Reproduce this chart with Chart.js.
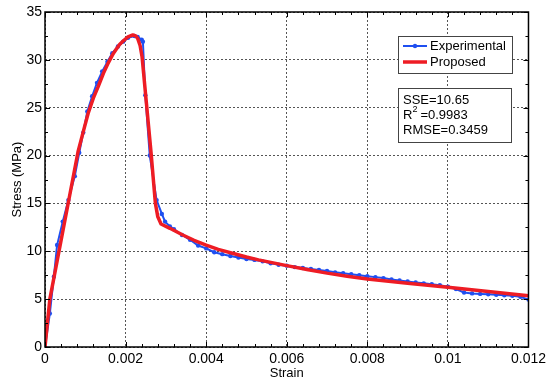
<!DOCTYPE html>
<html><head><meta charset="utf-8">
<script src="https://cdn.jsdelivr.net/npm/chart.js@4/dist/chart.umd.min.js"></script>
<style>html,body{margin:0;padding:0;background:#fff;}</style>
</head><body>
<canvas id="c" width="550" height="381" style="display:block;width:550px;height:381px"></canvas>
<script>
// ---- data ----
const expStrain = [0,0.00012,0.00022,0.0003,0.00044,0.00058,0.00074,0.00085,0.00095,0.00105,0.00117,0.00129,0.00142,0.00155,0.00167,0.00181,0.00194,0.00206,0.00222,0.0023,0.0024,0.00243,0.00249,0.0026,0.00277,0.0029,0.00298,0.0031,
0.0032,0.0034,0.0036,0.0038,0.004,0.0042,0.0044,0.0046,0.0048,0.005,0.0052,0.0054,0.0056,0.0058,0.006,0.0062,0.0064,0.0066,0.0068,0.007,0.0072,0.0074,0.0076,0.0078,0.008,0.0082,0.0084,0.0086,0.0088,0.009,0.0092,0.0094,0.0096,0.0098,0.01,0.0102,0.0104,0.0106,0.0108,0.011,0.0112,0.0114,0.0116,0.0118,0.012];
const expStress = [0,3.5,7.35,10.65,13.1,15.35,17.85,20.3,22.4,24.6,26.2,27.6,28.8,29.8,30.7,31.4,31.9,32.3,32.5,32.4,32.1,31.9,26.3,20.0,15.35,13.9,13.1,12.6,
12.3,11.7,11.2,10.6,10.3,9.9,9.7,9.5,9.35,9.2,9.1,8.95,8.75,8.6,8.5,8.35,8.25,8.15,8.05,7.95,7.8,7.7,7.6,7.5,7.4,7.3,7.2,7.05,6.95,6.85,6.75,6.65,6.55,6.45,6.3,6.05,5.7,5.6,5.55,5.5,5.45,5.4,5.35,5.25,4.95];
const propStrain = [0,0.00012,0.00082,0.00095,0.00107,0.0012,0.00132,0.00145,0.00156,0.0017,0.00185,0.00196,0.00206,0.00218,0.00225,0.0023,0.00236,0.00241,0.00251,0.00263,0.00274,0.0028,0.00288,0.0031,0.00342,0.0037,0.004,0.0043,0.00465,0.005,0.0053,0.006,0.0065,0.007,0.0075,0.008,0.009,0.01,0.011,0.012];
const propStress = [0,5.0,20.4,22.5,24.4,26.0,27.2,28.6,29.6,30.7,31.6,32.05,32.4,32.6,32.5,32.25,31.5,30.3,25.8,20.4,15.0,13.6,12.85,12.4,11.7,11.15,10.65,10.2,9.8,9.4,9.1,8.5,8.1,7.72,7.4,7.1,6.65,6.24,5.8,5.35];
const xTickValues = [0,0.002,0.004,0.006,0.008,0.01,0.012];
const yTickValues = [0,5,10,15,20,25,30,35];
const seriesNames = ['Experimental','Proposed'];
const statSSE = 'SSE=10.65';
const statR2 = '=0.9983';
const statRMSE = 'RMSE=0.3459';

const FONT = '"Liberation Sans", Arial, sans-serif';
const BLUE = '#1f4ff0';
const RED = '#ee1c24';

function pts(xs, ys){ return xs.map((x,i)=>({x:x,y:ys[i]})); }

const boxPlugin = {
  id:'boxPlugin',
  afterDraw(chart){
    const ctx = chart.ctx, a = chart.chartArea;
    const xs = chart.scales.x, ys = chart.scales.y;
    ctx.save();
    ctx.strokeStyle = '#000';
    ctx.lineWidth = 1.5;
    ctx.strokeRect(a.left, a.top, a.right-a.left, a.bottom-a.top);
    ctx.lineWidth = 1;
    ctx.beginPath();
    for(let i=0;i<=30;i++){
      const v = i*0.0004;
      const px = Math.round(xs.getPixelForValue(v))+0.5;
      const L = (i%5===0)?5:3;
      ctx.moveTo(px,a.bottom); ctx.lineTo(px,a.bottom-L);
      ctx.moveTo(px,a.top); ctx.lineTo(px,a.top+L);
    }
    for(let i=0;i<=14;i++){
      const v = i*2.5;
      const py = Math.round(ys.getPixelForValue(v))+0.5;
      const L = (i%2===0)?5:3;
      ctx.moveTo(a.left,py); ctx.lineTo(a.left+L,py);
      ctx.moveTo(a.right,py); ctx.lineTo(a.right-L,py);
    }
    ctx.stroke();

    // legend box
    const lx = a.left + 353, ly = a.top + 24, lw = 114, lh = 37;
    ctx.fillStyle='#fff'; ctx.fillRect(lx,ly,lw,lh);
    ctx.strokeStyle='#444'; ctx.lineWidth=1; ctx.strokeRect(lx+0.5,ly+0.5,lw,lh);
    ctx.font = '13px '+FONT; ctx.textBaseline='middle'; ctx.fillStyle='#000';
    ctx.strokeStyle=BLUE; ctx.lineWidth=2;
    ctx.beginPath(); ctx.moveTo(lx+5,ly+10); ctx.lineTo(lx+29,ly+10); ctx.stroke();
    ctx.fillStyle=BLUE; ctx.beginPath(); ctx.arc(lx+17,ly+10,2.2,0,Math.PI*2); ctx.fill();
    ctx.fillStyle='#000'; ctx.fillText(seriesNames[0], lx+32, ly+10);
    ctx.strokeStyle=RED; ctx.lineWidth=3.5;
    ctx.beginPath(); ctx.moveTo(lx+5,ly+26); ctx.lineTo(lx+29,ly+26); ctx.stroke();
    ctx.fillText(seriesNames[1], lx+32, ly+26);

    // stats box
    const sx = a.left + 353, sy = a.top + 76, sw = 113, sh = 54;
    ctx.fillStyle='#fff'; ctx.fillRect(sx,sy,sw,sh);
    ctx.strokeStyle='#444'; ctx.lineWidth=1; ctx.strokeRect(sx+0.5,sy+0.5,sw,sh);
    ctx.fillStyle='#000';
    ctx.font = '13px '+FONT;
    ctx.fillText(statSSE, sx+5, sy+12);
    ctx.fillText('R', sx+5, sy+27);
    const rw = ctx.measureText('R').width;
    ctx.font = '9px '+FONT;
    ctx.fillText('2', sx+5+rw, sy+22);
    ctx.font = '13px '+FONT;
    ctx.fillText(statR2, sx+5+rw+8, sy+27);
    ctx.fillText(statRMSE, sx+5, sy+42);
    ctx.restore();
  }
};

function fmtX(v){ return String(parseFloat(Number(v).toFixed(4))); }

new Chart(document.getElementById('c'), {
  type:'line',
  data:{
    datasets:[
      {label:seriesNames[0], data:pts(expStrain,expStress), borderColor:BLUE, backgroundColor:BLUE,
       borderWidth:2, pointRadius:2.2, pointStyle:'circle', pointBorderWidth:0, tension:0, order:2},
      {label:seriesNames[1], data:pts(propStrain,propStress), borderColor:RED, backgroundColor:RED,
       borderWidth:3.5, pointRadius:0, tension:0, borderJoinStyle:'round', borderCapStyle:'round', order:1}
    ]
  },
  options:{
    responsive:false, animation:false, devicePixelRatio:1,
    layout:{padding:{top:12,right:19,left:0,bottom:0}},
    plugins:{legend:{display:false}, tooltip:{enabled:false}},
    scales:{
      x:{type:'linear', min:0, max:0.012,
        afterBuildTicks(s){ s.ticks = xTickValues.map(v=>({value:v})); },
        afterFit(s){ s.height = 34; },
        grid:{color:'#555', lineWidth:1, drawTicks:false},
        border:{display:false, dash:[2,2]},
        ticks:{color:'#000', padding:4, maxRotation:0, font:{family:FONT,size:14}, callback:(v)=>fmtX(v)},
        title:{display:true, text:'Strain', color:'#000', font:{family:FONT,size:13}, padding:{top:0,bottom:0}}
      },
      y:{type:'linear', min:0, max:35,
        afterBuildTicks(s){ s.ticks = yTickValues.map(v=>({value:v})); },
        afterFit(s){ s.width = 45; },
        grid:{color:'#555', lineWidth:1, drawTicks:false},
        border:{display:false, dash:[2,2]},
        ticks:{color:'#000', padding:3, font:{family:FONT,size:14}},
        title:{display:true, text:'Stress (MPa)', color:'#000', font:{family:FONT,size:13}, padding:{top:10,bottom:0}}
      }
    }
  },
  plugins:[boxPlugin]
});
</script>
</body></html>
